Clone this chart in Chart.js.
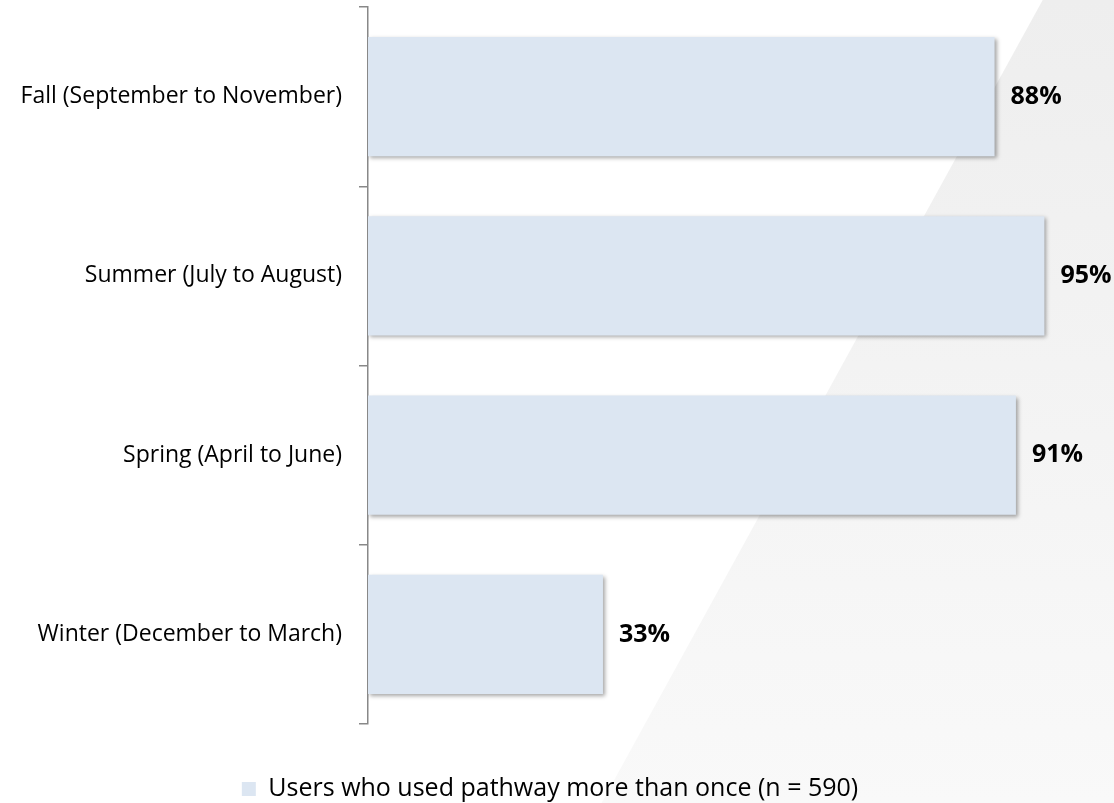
<!DOCTYPE html>
<html>
    <head>
        <title>Pathway use by season</title>
        <meta charset="UTF-8" />
        <script src="https://cdn.jsdelivr.net/npm/chart.js"></script>
        <style>
            body { margin: 0; background: #fff; }
            .wrap { width: 1114px; height: 803px; position: relative; }
        </style>
    </head>
    <body>
        <div class="wrap">
            <canvas id="myChart"></canvas>
        </div>
        <script>
            // データ
            var seasons = ['Fall (September to November)', 'Summer (July to August)', 'Spring (April to June)', 'Winter (December to March)'];
            var usedMoreThanOnce = [88, 95, 91, 33];
            var seriesName = 'Users who used pathway more than once (n = 590)';

            var fontFamily = '"Open Sans", "Noto Sans", sans-serif';

            // 背景の斜めのグレー
            var backgroundPlugin = {
                id: 'bgDiagonal',
                beforeDraw: function(chart) {
                    var c = chart.ctx;
                    var w = chart.width, h = chart.height;
                    c.save();
                    c.fillStyle = '#ffffff';
                    c.fillRect(0, 0, w, h);
                    var g = c.createLinearGradient(0, 0, 0, h);
                    g.addColorStop(0, '#eeeeee');
                    g.addColorStop(1, '#f9f9f9');
                    c.fillStyle = g;
                    c.beginPath();
                    c.moveTo(w * 0.936, 0);
                    c.lineTo(w, 0);
                    c.lineTo(w, h);
                    c.lineTo(w * 0.54, h);
                    c.closePath();
                    c.fill();
                    c.restore();
                }
            };

            // 棒の影
            var shadowPlugin = {
                id: 'barShadow',
                beforeDatasetDraw: function(chart) {
                    var c = chart.ctx;
                    c.save();
                    c.shadowColor = 'rgba(0,0,0,0.35)';
                    c.shadowBlur = 4;
                    c.shadowOffsetX = 2;
                    c.shadowOffsetY = 2;
                },
                afterDatasetDraw: function(chart) {
                    chart.ctx.restore();
                }
            };

            // 値ラベル
            var valueLabelPlugin = {
                id: 'valueLabels',
                afterDatasetsDraw: function(chart) {
                    var c = chart.ctx;
                    var meta = chart.getDatasetMeta(0);
                    c.save();
                    c.font = 'bold 25px ' + fontFamily;
                    c.fillStyle = '#000';
                    c.textAlign = 'left';
                    c.textBaseline = 'middle';
                    meta.data.forEach(function(bar, i) {
                        c.fillText(usedMoreThanOnce[i] + '%', bar.x + 16, bar.y);
                    });
                    c.restore();
                }
            };

            var ctx = document.getElementById('myChart').getContext('2d');
            var myChart = new Chart(ctx, {
                type: 'bar',
                data: {
                    labels: seasons,
                    datasets: [{
                        label: seriesName,
                        data: usedMoreThanOnce,
                        backgroundColor: '#dce6f2',
                        borderWidth: 0,
                        barPercentage: 0.664,
                        categoryPercentage: 1.0
                    }]
                },
                options: {
                    indexAxis: 'y',
                    responsive: true,
                    maintainAspectRatio: false,
                    animation: false,
                    layout: {
                        padding: { top: 7, left: 20, right: 34, bottom: -8.5 }
                    },
                    scales: {
                        x: {
                            display: false,
                            min: 0,
                            max: 100
                        },
                        y: {
                            afterFit: function(scale) {
                                scale.width = 348;
                                scale.paddingTop = 0;
                                scale.paddingBottom = 0;
                            },
                            border: { display: true, color: '#888888', width: 1.5 },
                            grid: {
                                display: true,
                                drawOnChartArea: false,
                                drawTicks: true,
                                tickLength: 9,
                                color: '#888888',
                                lineWidth: 1.5,
                                offset: true
                            },
                            ticks: {
                                color: '#000',
                                padding: 17,
                                font: { family: fontFamily, size: 23 }
                            }
                        }
                    },
                    plugins: {
                        legend: {
                            position: 'bottom',
                            labels: {
                                color: '#000',
                                boxWidth: 14,
                                boxHeight: 14,
                                padding: 52.5,
                                font: { family: fontFamily, size: 25 }
                            }
                        },
                        tooltip: { enabled: false }
                    }
                },
                plugins: [backgroundPlugin, shadowPlugin, valueLabelPlugin]
            });
        </script>
    </body>
</html>
